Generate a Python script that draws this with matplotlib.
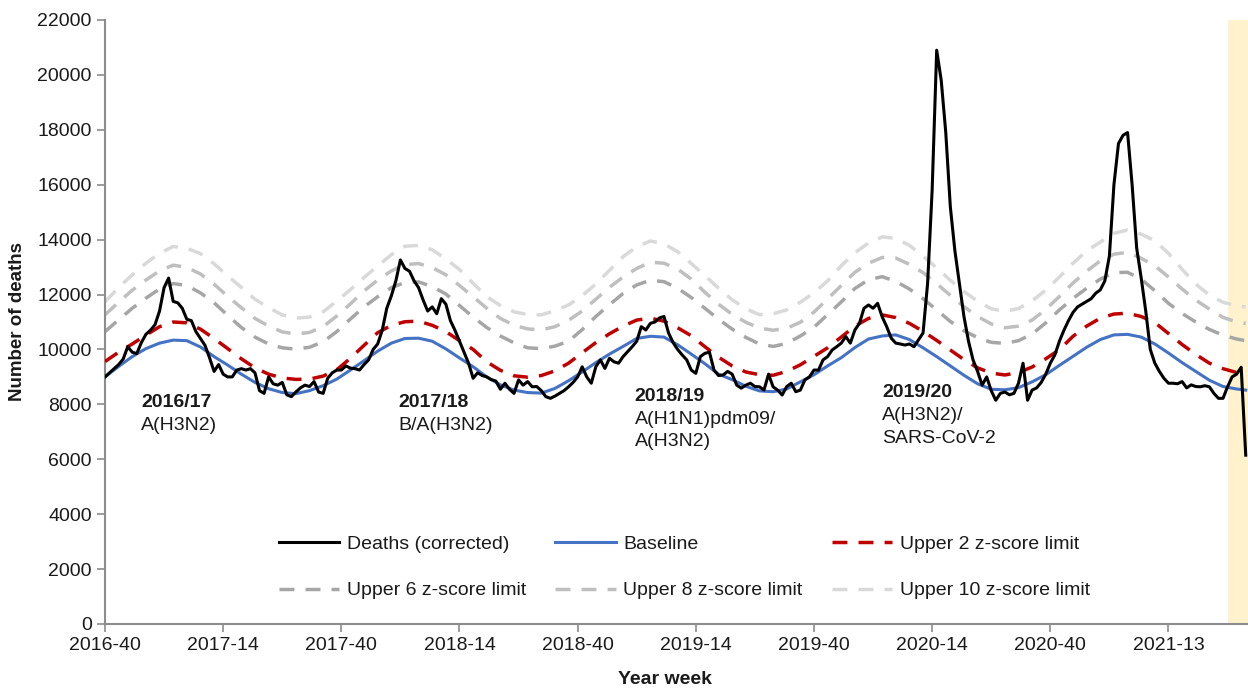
import matplotlib
matplotlib.use("Agg")
import matplotlib.pyplot as plt
from matplotlib.lines import Line2D

plt.rcParams['font.family'] = ['Liberation Sans', 'DejaVu Sans']

# ── x axis: week index from 2016-40 ─────────────────────────────
TICK_WEEKS = [0, 26, 52, 78, 104, 130, 156, 182, 208, 234]
TICK_LABELS = ["2016-40", "2017-14", "2017-40", "2018-14", "2018-40",
               "2019-14", "2019-40", "2020-14", "2020-40", "2021-13"]

# weekly deaths (corrected), week 0 .. 251
DEATHS = [
    9000, 9150, 9300, 9450, 9650, 10100, 9900, 9850, 10250, 10550,
    10700, 10900, 11400, 12250, 12600, 11750, 11700, 11500, 11100, 11050,
    10650, 10400, 10150, 9700, 9200, 9450, 9100, 9000, 9000, 9250,
    9300, 9250, 9300, 9150, 8500, 8400, 9000, 8750, 8700, 8800,
    8350, 8280, 8450, 8600, 8700, 8650, 8830, 8450, 8400, 8950,
    9150, 9250, 9250, 9400, 9320, 9300, 9250, 9450, 9620, 10000,
    10200, 10700, 11500, 11950, 12500, 13260, 12950, 12850, 12500, 12250,
    11800, 11400, 11550, 11300, 11850, 11650, 11050, 10700, 10300, 9900,
    9500, 8950, 9150, 9050, 9000, 8900, 8850, 8550, 8770, 8550,
    8400, 8890, 8700, 8830, 8640, 8650, 8500, 8280, 8220, 8300,
    8400, 8500, 8640, 8800, 9000, 9370, 9000, 8770, 9370, 9620,
    9310, 9680, 9550, 9500, 9740, 9920, 10100, 10300, 10830, 10710,
    10950, 11000, 11150, 11200, 10600, 10250, 10000, 9800, 9620, 9250,
    9130, 9740, 9860, 9900, 9250, 9050, 9070, 9200, 9100, 8700,
    8590, 8700, 8770, 8650, 8640, 8520, 9100, 8640, 8520, 8340,
    8650, 8770, 8460, 8520, 8890, 9000, 9250, 9250, 9620, 9740,
    9980, 10100, 10230, 10470, 10230, 10710, 10950, 11500, 11620, 11500,
    11680, 11190, 10830, 10410, 10230, 10200, 10160, 10200, 10100, 10350,
    10600, 12400, 15800, 20900, 19800, 17900, 15200, 13600, 12400, 11200,
    10300, 9620, 9200, 8700, 9000, 8500, 8150, 8400, 8450, 8350,
    8400, 8770, 9500, 8150, 8520, 8600, 8800, 9100, 9500, 9800,
    10300, 10700, 11050, 11350, 11550, 11650, 11750, 11850, 12050, 12170,
    12500, 13400, 16000, 17500, 17800, 17900, 16000, 13700, 12600, 11400,
    10000, 9500, 9200, 8950, 8770, 8770, 8750, 8830, 8600, 8710,
    8650, 8640, 8680, 8640, 8400, 8220, 8220, 8640, 9000, 9100,
    9350, 6150,
]
DEATH_WEEKS = list(range(len(DEATHS)))

# smooth series read every 3 weeks (0..249) plus the last week 251
SMOOTH_WEEKS = list(range(0, 250, 3)) + [251]

BASELINE = [
    9000, 9380, 9740, 10030, 10230, 10340, 10320, 10090, 9740, 9430,
    9100, 8800, 8570, 8430, 8390, 8500, 8680, 8920, 9250, 9590,
    9940, 10230, 10400, 10410, 10300, 10020, 9690, 9370, 9000, 8710,
    8520, 8430, 8410, 8580, 8860, 9180, 9520, 9830, 10110, 10400,
    10480, 10450, 10170, 9830, 9480, 9100, 8900, 8660, 8490, 8460,
    8560, 8820, 9080, 9400, 9700, 10070, 10380, 10490, 10530, 10360,
    10060, 9740, 9400, 9060, 8750, 8550, 8530, 8610, 8820, 9080,
    9420, 9750, 10080, 10360, 10530, 10550, 10450, 10200, 9870, 9520,
    9200, 8880, 8650, 8560, 8520,
]

UPPER_2 = [
    9560, 9900, 10200, 10520, 10830, 11000, 10970, 10740, 10400, 10030,
    9660, 9330, 9100, 8960, 8910, 8920, 9030, 9260, 9680, 10150,
    10610, 10880, 11010, 11030, 10880, 10650, 10320, 10000, 9550, 9240,
    9040, 8990, 9050, 9220, 9500, 9880, 10250, 10570, 10850, 11070,
    11140, 11030, 10790, 10500, 10100, 9720, 9400, 9180, 9080, 9060,
    9200, 9440, 9750, 10060, 10450, 10850, 11130, 11260, 11160, 10950,
    10660, 10330, 9980, 9630, 9330, 9140, 9070, 9160, 9360, 9660,
    9990, 10480, 10850, 11140, 11290, 11320, 11200, 10980, 10580, 10180,
    9820, 9500, 9300, 9160, 9120,
]

UPPER_6 = [
    10650, 11080, 11500, 11870, 12200, 12400, 12330, 12060, 11700, 11240,
    10800, 10450, 10200, 10060, 10010, 10080, 10280, 10650, 11110, 11550,
    11920, 12250, 12440, 12460, 12290, 12020, 11600, 11180, 10800, 10490,
    10240, 10060, 10030, 10120, 10300, 10720, 11200, 11630, 12040, 12350,
    12520, 12470, 12230, 11890, 11500, 11100, 10740, 10440, 10200, 10110,
    10220, 10490, 10810, 11270, 11730, 12220, 12540, 12650, 12480, 12200,
    11850, 11440, 11020, 10680, 10430, 10260, 10220, 10320, 10560, 10970,
    11440, 11860, 12230, 12560, 12800, 12810, 12560, 12140, 11680, 11310,
    11000, 10730, 10520, 10380, 10320,
]

UPPER_8 = [
    11260, 11720, 12160, 12530, 12860, 13070, 12990, 12750, 12380, 11930,
    11520, 11130, 10850, 10640, 10560, 10620, 10830, 11220, 11660, 12130,
    12530, 12860, 13090, 13130, 12980, 12720, 12330, 11920, 11500, 11130,
    10880, 10750, 10710, 10830, 11060, 11400, 11830, 12260, 12640, 12950,
    13180, 13140, 12930, 12560, 12080, 11650, 11280, 10990, 10780, 10700,
    10770, 10990, 11360, 11840, 12330, 12810, 13140, 13350, 13330, 13100,
    12800, 12400, 11970, 11560, 11200, 10930, 10790, 10850, 11070, 11460,
    11930, 12420, 12850, 13230, 13470, 13540, 13320, 13050, 12640, 12200,
    11800, 11470, 11170, 11000, 10950,
]

UPPER_10 = [
    11740, 12250, 12720, 13140, 13500, 13750, 13690, 13490, 13120, 12680,
    12260, 11830, 11520, 11260, 11140, 11180, 11370, 11760, 12180, 12620,
    13040, 13450, 13760, 13790, 13630, 13300, 12910, 12410, 11920, 11600,
    11370, 11270, 11260, 11410, 11620, 11960, 12380, 12880, 13380, 13740,
    13950, 13850, 13560, 13130, 12690, 12230, 11810, 11480, 11270, 11300,
    11440, 11720, 12060, 12500, 13050, 13520, 13880, 14100, 14050, 13790,
    13400, 12970, 12520, 12110, 11760, 11480, 11390, 11490, 11770, 12160,
    12640, 13140, 13590, 13910, 14230, 14350, 14200, 13960, 13500, 12920,
    12380, 11980, 11720, 11590, 11550,
]

# season annotations: x week, y of first line, season, dominant strains
SEASON_WEEKS = [8, 64.5, 116.5, 171]
SEASON_Y = [8060, 8050, 8290, 8420]
SEASON_NAMES = ["2016/17", "2017/18", "2018/19", "2019/20"]
SEASON_STRAINS = [["A(H3N2)"], ["B/A(H3N2)"],
                  ["A(H1N1)pdm09/", "A(H3N2)"], ["A(H3N2)/", "SARS-CoV-2"]]

SHADE_START = 247   # most recent weeks, data still incomplete

TXT = "#1a1a1a"
AX_COL = "#8c8c8c"
FS = 14

fig = plt.figure(figsize=(12.48, 6.88), dpi=100)
ax = fig.add_axes([105 / 1248, 1 - 624 / 688, 1143 / 1248, 604 / 688])

ax.axvspan(SHADE_START, 260, color="#FFF2CC", zorder=0, linewidth=0)

dash = (4.3, 3.2)
l10, = ax.plot(SMOOTH_WEEKS, UPPER_10, color="#D9D9D9", lw=2.5, dashes=dash,
               label="Upper 10 z-score limit", zorder=2)
l8, = ax.plot(SMOOTH_WEEKS, UPPER_8, color="#BFBFBF", lw=2.5, dashes=dash,
              label="Upper 8 z-score limit", zorder=2)
l6, = ax.plot(SMOOTH_WEEKS, UPPER_6, color="#A6A6A6", lw=2.5, dashes=dash,
              label="Upper 6 z-score limit", zorder=2)
lb, = ax.plot(SMOOTH_WEEKS, BASELINE, color="#4472C4", lw=2.2,
              label="Baseline", zorder=3)
l2, = ax.plot(SMOOTH_WEEKS, UPPER_2, color="#C00000", lw=2.5, dashes=dash,
              label="Upper 2 z-score limit", zorder=3)
ld, = ax.plot(DEATH_WEEKS, DEATHS, color="black", lw=2.2,
              label="Deaths (corrected)", zorder=4)

ax.set_xlim(0, 251.5)
ax.set_ylim(0, 22000)
ax.set_yticks(range(0, 22001, 2000))
ax.set_xticks(TICK_WEEKS)
ax.set_xticklabels(TICK_LABELS)
ax.tick_params(axis="both", labelsize=FS, colors=AX_COL, labelcolor=TXT,
               length=6, width=1.2, direction="out")
ax.spines["top"].set_visible(False)
ax.spines["right"].set_visible(False)
for s in ("left", "bottom"):
    ax.spines[s].set_color(AX_COL)
    ax.spines[s].set_linewidth(1.5)

# season labels
for xw, yv, name, strains in zip(SEASON_WEEKS, SEASON_Y, SEASON_NAMES, SEASON_STRAINS):
    ax.text(xw, yv, name, fontsize=FS, fontweight="bold", color=TXT,
            ha="left", va="center", zorder=5)
    for k, s in enumerate(strains):
        ax.text(xw, yv - 830 * (k + 1), s, fontsize=FS, color=TXT,
                ha="left", va="center", zorder=5)

# legend: column-major order to get the 2x3 layout
handles = [ld, l6, lb, l8, l2, l10]
ax.legend(handles=handles, labels=[h.get_label() for h in handles],
          ncol=3, loc="center", bbox_to_anchor=(0.507, 0.094),
          frameon=False, fontsize=FS, handlelength=3.1, handletextpad=0.4,
          columnspacing=1.5, labelspacing=1.5, labelcolor=TXT)

fig.text(18 / 1248, 1 - 321 / 688, "Number of deaths", rotation=90,
         fontsize=13.5, fontweight="bold", color=TXT, ha="center", va="center")
fig.text(665 / 1248, 1 - 680 / 688, "Year week", fontsize=14,
         fontweight="bold", color=TXT, ha="center", va="center")

fig.savefig("out.png", dpi=100)
